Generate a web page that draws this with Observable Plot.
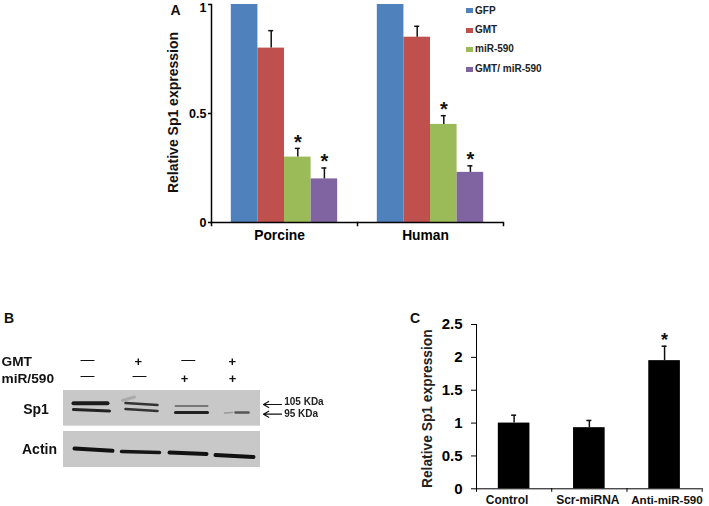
<!DOCTYPE html>
<html><head><meta charset="utf-8">
<script src="https://cdn.jsdelivr.net/npm/d3@7"></script>
<script src="https://cdn.jsdelivr.net/npm/@observablehq/plot@0.6"></script>
<style>
html,body{margin:0;padding:0;background:#fff;width:709px;height:506px;overflow:hidden;font-family:"Liberation Sans",Arial,sans-serif}
#page{position:relative;width:709px;height:506px}
.abs{position:absolute}
.abs svg{display:block;background:transparent}
.tag{position:absolute;font-weight:bold;color:#111;line-height:1}
.sw{position:absolute;width:6.5px;height:5px}
.lg{position:absolute;font-weight:bold;font-size:10px;color:#222;line-height:1;white-space:nowrap}
</style></head><body><div id="page"></div>
<script>
// Panel A
const speciesGroups = ["Porcine","Human"];
const treatments = ["GFP","GMT","miR-590","GMT/ miR-590"];
const treatmentColors = ["#4F81BD","#C0504D","#9BBB59","#8064A2"];
const porcineValues = [1,0.80,0.30,0.20];
const porcineUpper  = [null,0.88,0.34,0.25];
const humanValues   = [1,0.85,0.45,0.23];
const humanUpper    = [null,0.90,0.49,0.26];
const starredTreatments = ["miR-590","GMT/ miR-590"];
const panelATicks = [0,0.5,1];
// Panel C
const conditions = ["Control","Scr-miRNA","Anti-miR-590"];
const conditionValues = [1.0,0.93,1.95];
const conditionUpper  = [1.12,1.04,2.17];
const conditionLabelShift = [-7,-1.5,2.4];
const panelCTicks = [0,0.5,1,1.5,2,2.5];
// Panel B (positions measured along the gel picture)
const blotNames = ["Sp1","Actin"];
const blotTop = [390,431];
const blotBottom = [425.7,467];
const blotLeft = 63, blotRight = 260;
const bandX1 = [73,73,125,125,175,175,224,235,74,121,169,215,122];
const bandX2 = [107,109,157,157,207,207,232,248,112,159,206,253,134];
const bandY1 = [402.7,409,402.5,408.5,405.5,412,412.5,412,448,451,452,454.5,400];
const bandY2 = [402.7,410.5,404.5,410.5,405.5,412,412,412,450.3,452,453.5,456.5,396.5];
const bandWeight = [4,3,2.5,2.5,2,3,1.5,2.5,4,3.5,4,4,3];
const bandShade = ["#1a1a1a","#222","#333","#333","#777","#222","#999","#555","#111","#151515","#111","#111","#aaa"];
const gmtX = [87,137.7,187.7,231.7];
const mirX = [87,139,184,232];
const gmtSignY = [359.5,361,359.5,361];
const mirSignY = [375.5,375.5,378,378];
const gmtSigns = ["—","+","—","+"];
const mirSigns = ["—","—","+","+"];

const page = document.getElementById("page");
function place(node,left,top){const d=document.createElement("div");d.className="abs";d.style.left=left+"px";d.style.top=top+"px";d.appendChild(node);page.appendChild(d);}
const font = {fontFamily:"'Liberation Sans',Arial,sans-serif",color:"#000",background:"transparent",overflow:"visible"};

// --- A ---
const rowsA = speciesGroups.flatMap((g,i)=>treatments.map((t,j)=>({
  group:g,treatment:t,
  value:(i?humanValues:porcineValues)[j],
  upper:(i?humanUpper:porcineUpper)[j]})));
const errA = rowsA.filter(d=>d.upper!=null);
const bwA = 26.6;
const chartA = Plot.plot({
  width:400,height:250,marginLeft:61,marginRight:47,marginTop:4,marginBottom:28,style:font,
  fx:{domain:speciesGroups,padding:0,round:false,label:null},
  x:{domain:treatments,paddingInner:0,paddingOuter:0.745,round:false,axis:null},
  y:{domain:[0,1],label:null},
  color:{domain:treatments,range:treatmentColors},
  marks:[
    Plot.barY(rowsA,{fx:"group",x:"treatment",y:"value",fill:"treatment"}),
    Plot.ruleX(errA,{fx:"group",x:"treatment",y1:"value",y2:"upper",stroke:"#111",strokeWidth:1.5}),
    Plot.tickY(errA,{fx:"group",x:"treatment",y:"upper",stroke:"#111",strokeWidth:1.5,insetLeft:(bwA-5)/2,insetRight:(bwA-5)/2}),
    Plot.text(errA.filter(d=>starredTreatments.includes(d.treatment)),{fx:"group",x:"treatment",y:"upper",text:()=>"*",fontSize:20,fontWeight:"bold",fill:"#111",dy:-6}),
    Plot.ruleY([0],{stroke:"#000",strokeWidth:1.5}),
    Plot.frame({anchor:"left",facetAnchor:"left",stroke:"#000",strokeWidth:1.5}),
    Plot.frame({anchor:"left",stroke:"#000",strokeWidth:1.5,insetTop:218,insetBottom:-3}),
    Plot.frame({anchor:"right",facetAnchor:"right",stroke:"#000",strokeWidth:1.5,insetTop:218,insetBottom:-3}),
    Plot.axisY({ticks:panelATicks,tickFormat:d=>d===1?"":String(d),tickSize:3,tickPadding:2,fontSize:12.5,fontWeight:"bold",label:null,stroke:"#000",strokeWidth:1.5}),
    Plot.axisY({ticks:[1],tickFormat:String,tickSize:0,tickPadding:5,fontSize:12.5,fontWeight:"bold",label:null,dy:3}),
    Plot.axisFx({anchor:"bottom",tickSize:0,tickPadding:8,fontSize:13.8,fontWeight:"bold",label:null,dx:-5}),
    Plot.text(["Relative Sp1 expression"],{frameAnchor:"left",facetAnchor:"left",textAnchor:"middle",rotate:-90,dx:-38,dy:-1,fontSize:14,fontWeight:"bold",fill:"#111"})
  ]
});
place(chartA,150,0);

// --- C ---
const rowsC = conditions.map((c,i)=>({condition:c,value:conditionValues[i],upper:conditionUpper[i],mark:"bar"}));
const bwC = 31.6;
const chartC = Plot.plot({
  width:309,height:206,marginLeft:76,marginRight:7.3,marginTop:24,marginBottom:17.7,style:font,
  fx:{domain:conditions,padding:0,round:false,label:null,axis:null},
  x:{domain:["bar"],paddingInner:0,paddingOuter:0.69,round:false,axis:null},
  y:{domain:[0,2.5],label:null},
  marks:[
    Plot.barY(rowsC,{fx:"condition",x:"mark",y:"value",fill:"#000"}),
    Plot.ruleX(rowsC,{fx:"condition",x:"mark",y1:"value",y2:"upper",stroke:"#111",strokeWidth:1.5}),
    Plot.tickY(rowsC,{fx:"condition",x:"mark",y:"upper",stroke:"#111",strokeWidth:1.5,insetLeft:(bwC-5)/2,insetRight:(bwC-5)/2}),
    Plot.text(rowsC.slice(2),{fx:"condition",x:"mark",y:"upper",text:()=>"*",fontSize:18,fontWeight:"bold",fill:"#111",dy:-6}),
    Plot.ruleY([0],{stroke:"#000",strokeWidth:1}),
    Plot.frame({anchor:"left",facetAnchor:"left",stroke:"#000",strokeWidth:1}),
    Plot.frame({anchor:"left",stroke:"#000",strokeWidth:1,insetTop:164,insetBottom:-2.5}),
    Plot.frame({anchor:"right",facetAnchor:"right",stroke:"#000",strokeWidth:1,insetTop:164,insetBottom:-2.5}),
    Plot.axisY({ticks:panelCTicks,tickFormat:d=>String(d),tickSize:5,tickPadding:9,fontSize:15,fontWeight:"bold",label:null,stroke:"#000"}),
    ...conditions.map((c,i)=>Plot.text([c],{fx:[c],x:["bar"],frameAnchor:"bottom",lineAnchor:"top",dy:6.5,dx:conditionLabelShift[i],text:d=>d,fontSize:i===2?11.6:12,fontWeight:"bold",fill:"#111"})),
    Plot.text(["Relative Sp1 expression"],{frameAnchor:"left",facetAnchor:"left",textAnchor:"middle",rotate:-90,dx:-49,dy:2,fontSize:13.8,fontWeight:"bold",fill:"#222"})
  ]
});
place(chartC,400,300);

// --- B ---
const bands = bandX1.map((_,i)=>({x1:bandX1[i],x2:bandX2[i],y1:bandY1[i],y2:bandY2[i],w:bandWeight[i],c:bandShade[i]}));
const blots = blotNames.map((n,i)=>({name:n,top:blotTop[i],bottom:blotBottom[i]}));
const signs = [
  ...gmtSigns.map((s,i)=>({s,x:gmtX[i],y:gmtSignY[i]})),
  ...mirSigns.map((s,i)=>({s,x:mirX[i],y:mirSignY[i]}))
];
const chartB = Plot.plot({
  width:340,height:170,margin:0,style:{...font,filter:"blur(0.45px)"},
  x:{domain:[0,340],axis:null},
  y:{domain:[305,475],range:[0,170],axis:null},
  marks:[
    Plot.rect(blots,{x1:blotLeft,x2:blotRight,y1:"top",y2:"bottom",fill:"#c8c8c8"}),
    Plot.link(bands,{x1:"x1",x2:"x2",y1:"y1",y2:"y2",stroke:"c",strokeWidth:"w",strokeLinecap:"round"}),
    Plot.text(signs.filter(d=>d.s==="+"),{x:"x",y:"y",text:"s",fontSize:13,fontWeight:"bold",fill:"#111"}),
    Plot.text(signs.filter(d=>d.s!=="+"),{x:"x",y:"y",text:"s",fontSize:14,fill:"#111"}),
    Plot.text(["GMT","miR/590"],{x:[1,1],y:[361,378],text:d=>d,textAnchor:"start",fontSize:13.7,fontWeight:"bold",fill:"#111"}),
    Plot.text(blotNames,{x:[35.5,39],y:[409,449],text:d=>d,fontSize:14,fontWeight:"bold",fill:"#111"}),
    Plot.arrow([0,1],{x1:[281,281],x2:[263,263],y1:[404,413.7],y2:[404,413.7],bend:0,headLength:8,headAngle:60,stroke:"#111",strokeWidth:1.2}),
    Plot.text(["105 KDa","95 KDa"],{x:[283.7,283.7],y:[401.7,413],text:d=>d,textAnchor:"start",fontSize:10,fontWeight:"bold",fill:"#222"})
  ]
});
place(chartB,0,305);

// --- legend & panel letters ---
const legendRows = [10.7,30,49.3,69.3];
treatments.forEach((t,i)=>{
  const s=document.createElement("div");s.className="sw";s.style.left="466px";s.style.top=(legendRows[i]-2.5)+"px";s.style.background=treatmentColors[i];page.appendChild(s);
  const l=document.createElement("div");l.className="lg";l.style.left="475px";l.style.top=(legendRows[i]-5)+"px";l.textContent=t;page.appendChild(l);
});
[["A",170.5,3,14],["B",4,311,14],["C",410,311,14]].forEach(([t,x,y,f])=>{
  const d=document.createElement("div");d.className="tag";d.style.left=x+"px";d.style.top=y+"px";d.style.fontSize=f+"px";d.textContent=t;page.appendChild(d);
});
</script></body></html>
